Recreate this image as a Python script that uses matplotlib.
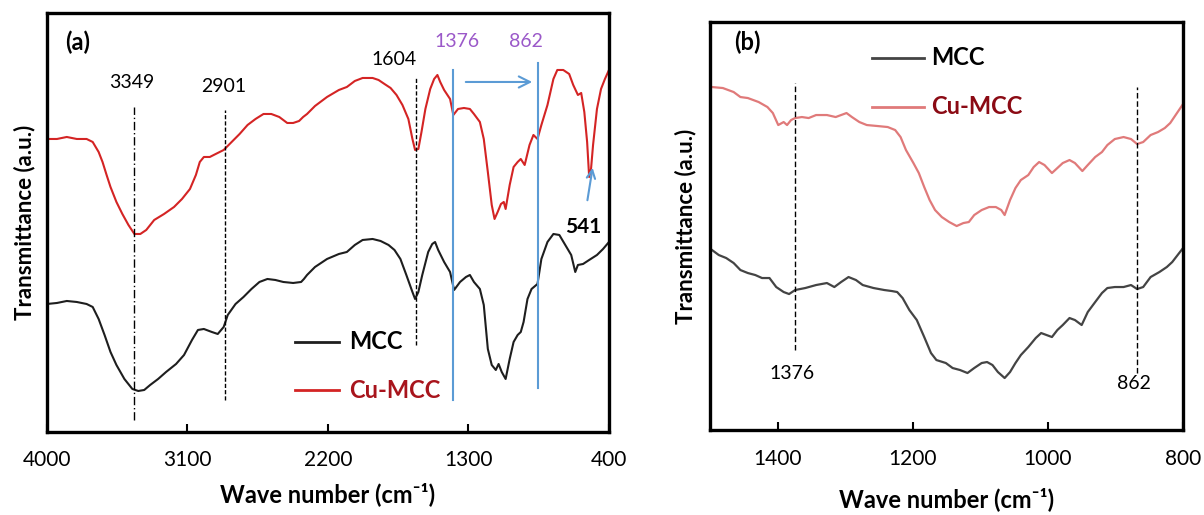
import matplotlib
matplotlib.use("Agg")
import matplotlib.pyplot as plt

plt.rcParams['font.family'] = ['Lato', 'DejaVu Sans']

# ---------------- Panel (a) data ----------------
a_cu_wn = [4000, 3936, 3873, 3809, 3746, 3707, 3669, 3644, 3618, 3593, 3555, 3517, 3478, 3440,
           3402, 3364, 3313, 3250, 3186, 3135, 3084, 3046, 3021, 2995, 2957, 2919, 2868, 2817,
           2766, 2715, 2664, 2613, 2563, 2512, 2461, 2423, 2385, 2359, 2334, 2283, 2206, 2130,
           2079, 2028, 1978, 1914, 1876, 1838, 1799, 1761, 1723, 1685, 1659, 1642, 1621, 1601,
           1576, 1545, 1520, 1499, 1481, 1456, 1418, 1397, 1367, 1329, 1291, 1265, 1227, 1202,
           1176, 1151, 1133, 1113, 1092, 1074, 1062, 1036, 1011, 985, 965, 940, 909, 884, 858,
           833, 794, 756, 731, 693, 655, 629, 599, 578, 558, 540, 527, 515, 502, 477, 451, 426, 400]
a_cu_t = [293, 293, 295, 293, 293, 290, 280, 270, 257, 245, 230, 218, 207, 198,
          198, 202, 212, 218, 225, 233, 243, 257, 270, 275, 275, 278, 282, 290,
          298, 307, 313, 318, 318, 315, 309, 309, 311, 315, 318, 326, 335, 342,
          345, 351, 354, 354, 352, 348, 344, 337, 327, 313, 293, 282, 283, 300,
          323, 343, 353, 357, 350, 342, 333, 317, 323, 324, 323, 318, 310, 293,
          260, 227, 213, 220, 228, 230, 223, 247, 265, 270, 273, 267, 287, 297, 293,
          307, 327, 353, 362, 362, 358, 347, 337, 339, 320, 290, 255, 263, 287, 323, 343, 353, 362]

a_mcc_wn = [4000, 3936, 3873, 3809, 3746, 3707, 3669, 3631, 3593, 3555, 3504, 3453, 3415, 3377,
            3339, 3288, 3237, 3173, 3122, 3071, 3033, 2995, 2944, 2906, 2868, 2842, 2792, 2741,
            2690, 2639, 2588, 2537, 2486, 2423, 2372, 2354, 2334, 2283, 2206, 2130, 2079, 2028,
            1978, 1914, 1863, 1812, 1774, 1736, 1698, 1659, 1642, 1621, 1596, 1558, 1532, 1514,
            1494, 1456, 1418, 1392, 1354, 1316, 1291, 1265, 1227, 1202, 1176, 1151, 1125, 1107,
            1087, 1062, 1036, 1011, 985, 965, 947, 922, 896, 858, 833, 794, 756, 718, 680, 642,
            616, 599, 566, 527, 477, 438, 400]
a_mcc_t = [128, 129, 131, 130, 128, 125, 113, 97, 80, 67, 53, 43, 41, 42,
           47, 53, 60, 68, 77, 92, 102, 103, 100, 98, 105, 117, 128, 135,
           143, 150, 153, 152, 150, 149, 150, 153, 157, 165, 173, 178, 180, 187,
           192, 193, 191, 187, 182, 173, 157, 140, 133, 140, 157, 180, 188, 190,
           182, 170, 160, 142, 150, 155, 157, 150, 143, 127, 83, 67, 62, 68,
           60, 53, 73, 90, 97, 100, 110, 133, 143, 148, 173, 190, 198, 197, 187, 177,
           160, 167, 168, 172, 177, 183, 190]

# ---------------- Panel (b) data ----------------
b_cu_wn = [1497, 1481, 1465, 1455, 1444, 1428, 1415, 1407, 1399, 1391, 1386, 1380, 1374, 1364,
           1354, 1343, 1327, 1314, 1306, 1298, 1290, 1279, 1268, 1252, 1237, 1226, 1218, 1210,
           1199, 1191, 1183, 1175, 1167, 1157, 1146, 1135, 1125, 1117, 1109, 1098, 1087, 1077,
           1069, 1064, 1056, 1048, 1040, 1029, 1021, 1013, 1005, 994, 986, 978, 968, 960, 949,
           941, 930, 920, 912, 901, 888, 877, 868, 859, 848, 837, 827, 819, 811, 800]
b_cu_t = [343, 342, 338, 333, 332, 328, 323, 317, 305, 308, 305, 310, 312, 313,
          312, 315, 315, 313, 315, 317, 313, 308, 305, 304, 303, 300, 293, 280,
          267, 257, 243, 230, 220, 213, 208, 204, 207, 208, 215, 220, 223, 223,
          220, 215, 230, 242, 250, 255, 263, 268, 265, 257, 262, 267, 270, 267, 259,
          265, 273, 278, 285, 291, 293, 291, 286, 288, 295, 298, 302, 307, 315, 326]

b_mcc_wn = [1497, 1487, 1476, 1465, 1455, 1444, 1433, 1423, 1412, 1402, 1391, 1383, 1374, 1359,
            1343, 1327, 1316, 1306, 1295, 1284, 1274, 1258, 1242, 1231, 1223, 1215, 1205, 1194,
            1183, 1173, 1165, 1151, 1141, 1130, 1119, 1109, 1098, 1090, 1082, 1074, 1064, 1056,
            1048, 1040, 1029, 1018, 1010, 1002, 994, 986, 978, 968, 960, 950, 941, 930, 920,
            912, 901, 888, 877, 868, 859, 848, 835, 824, 816, 808, 800]
b_mcc_t = [180, 175, 172, 167, 160, 157, 155, 152, 152, 143, 138, 136, 140, 142,
           145, 147, 143, 148, 153, 150, 145, 142, 140, 139, 138, 132, 120, 110,
           93, 77, 70, 67, 62, 60, 57, 62, 67, 68, 65, 58, 52, 58,
           67, 75, 83, 92, 97, 95, 93, 100, 105, 112, 110, 105, 118, 128, 137,
           142, 143, 143, 145, 141, 143, 153, 158, 163, 168, 175, 182]

# Annotation data
a_ticks = [4000, 3100, 2200, 1300, 400]
b_ticks = [1400, 1200, 1000, 800]
a_marker_3349 = 3443
a_marker_2901 = 2860
a_marker_1604 = 1636
a_marker_1376 = 1397
a_marker_862 = 857
b_marker_1376 = 1374
b_marker_862 = 868

fig = plt.figure(figsize=(12.04, 5.15), dpi=100)
axA = fig.add_axes([0.0390, 0.1612, 0.4668, 0.8136])
axB = fig.add_axes([0.5897, 0.1650, 0.3929, 0.7922])

red_a = '#D42424'
black_a = '#1E1E1E'
red_b = '#E07A7A'
black_b = '#444444'
blue = '#5B9BD5'
purple = '#9B59C9'
legend_red = '#A8141C'

xlabel_text = 'Wave number (cm\u207b\u00b9)'

# ---------- Panel (a) ----------
ax = axA
ax.plot(a_cu_wn, a_cu_t, color=red_a, lw=1.5)
ax.plot(a_mcc_wn, a_mcc_t, color=black_a, lw=1.5)
ax.set_xlim(4000, 400)
ax.set_ylim(0, 419)
ax.set_xticks(a_ticks)
ax.set_xticklabels([str(t) for t in a_ticks])
ax.set_yticks([])
ax.tick_params(axis='x', direction='in', length=6, width=1.5, labelsize=15, pad=13)
for s in ax.spines.values():
    s.set_linewidth(2.4)

ax.plot([a_marker_3349, a_marker_3349], [12, 325], color='black', lw=1.0,
        linestyle=(0, (6, 2, 1, 2)))
ax.plot([a_marker_2901, a_marker_2901], [32, 322], color='black', lw=1.0,
        linestyle=(0, (3, 1.5)))
ax.plot([a_marker_1604, a_marker_1604], [87, 354], color='black', lw=1.0,
        linestyle=(0, (3, 1.5)))
ax.plot([a_marker_1376, a_marker_1376], [32, 362], color=blue, lw=1.5)
ax.plot([a_marker_862, a_marker_862], [44, 369], color=blue, lw=1.5)
ax.annotate('', xy=(874, 350), xytext=(1335, 350),
            arrowprops=dict(arrowstyle='->', color=blue, lw=1.5, mutation_scale=20))
ax.annotate('', xy=(502, 267), xytext=(541, 229),
            arrowprops=dict(arrowstyle='->', color=blue, lw=1.5, mutation_scale=15))

ax.text(3455, 349, '3349', fontsize=14, ha='center', va='center')
ax.text(2870, 345, '2901', fontsize=14, ha='center', va='center')
ax.text(1777, 372, '1604', fontsize=14, ha='center', va='center')
ax.text(1373, 390, '1376', fontsize=14, ha='center', va='center', color=purple)
ax.text(932, 390, '862', fontsize=14, ha='center', va='center', color=purple)
ax.text(566, 205, '541', fontsize=15, ha='center', va='center', fontweight='bold')

ax.text(0.055, 0.931, '(a)', transform=ax.transAxes, fontsize=17, fontweight='bold',
        ha='center', va='center')
ax.plot([0.441, 0.520], [0.215, 0.215], transform=ax.transAxes, color=black_a, lw=2)
ax.plot([0.441, 0.520], [0.100, 0.100], transform=ax.transAxes, color=red_a, lw=2)
ax.text(0.537, 0.215, 'MCC', transform=ax.transAxes, fontsize=17, fontweight='bold',
        va='center', ha='left')
ax.text(0.537, 0.100, 'Cu-MCC', transform=ax.transAxes, fontsize=17, fontweight='bold',
        va='center', ha='left', color=legend_red)

ax.set_xlabel(xlabel_text, fontsize=17, fontweight='bold', labelpad=9)
ax.set_ylabel('Transmittance (a.u.)', fontsize=16, fontweight='bold', labelpad=8)

# ---------- Panel (b) ----------
ax = axB
ax.plot(b_cu_wn, b_cu_t, color=red_b, lw=1.6)
ax.plot(b_mcc_wn, b_mcc_t, color=black_b, lw=1.6)
ax.set_xlim(1500, 800)
ax.set_ylim(0, 408)
ax.set_xticks(b_ticks)
ax.set_xticklabels([str(t) for t in b_ticks])
ax.set_yticks([])
ax.tick_params(axis='x', direction='in', length=6, width=1.5, labelsize=15, pad=14)
for s in ax.spines.values():
    s.set_linewidth(2.4)

ax.plot([b_marker_1376, b_marker_1376], [80, 347], color='black', lw=1.0,
        linestyle=(0, (4, 2)))
ax.plot([b_marker_862, b_marker_862], [57, 343], color='black', lw=1.0,
        linestyle=(0, (4, 2)))
ax.text(1378, 57, '1376', fontsize=14, ha='center', va='center')
ax.text(872, 47, '862', fontsize=14, ha='center', va='center')

ax.text(0.078, 0.951, '(b)', transform=ax.transAxes, fontsize=17, fontweight='bold',
        ha='center', va='center')
ax.plot([0.342, 0.452], [0.912, 0.912], transform=ax.transAxes, color=black_b, lw=2)
ax.plot([0.342, 0.452], [0.792, 0.792], transform=ax.transAxes, color=red_b, lw=2)
ax.text(0.467, 0.912, 'MCC', transform=ax.transAxes, fontsize=17, fontweight='bold',
        va='center', ha='left')
ax.text(0.467, 0.792, 'Cu-MCC', transform=ax.transAxes, fontsize=17, fontweight='bold',
        va='center', ha='left', color='#8B0A14')

ax.set_xlabel(xlabel_text, fontsize=17, fontweight='bold', labelpad=13)
ax.set_ylabel('Transmittance (a.u.)', fontsize=16, fontweight='bold', labelpad=10)

fig.savefig('out.png', dpi=100)
